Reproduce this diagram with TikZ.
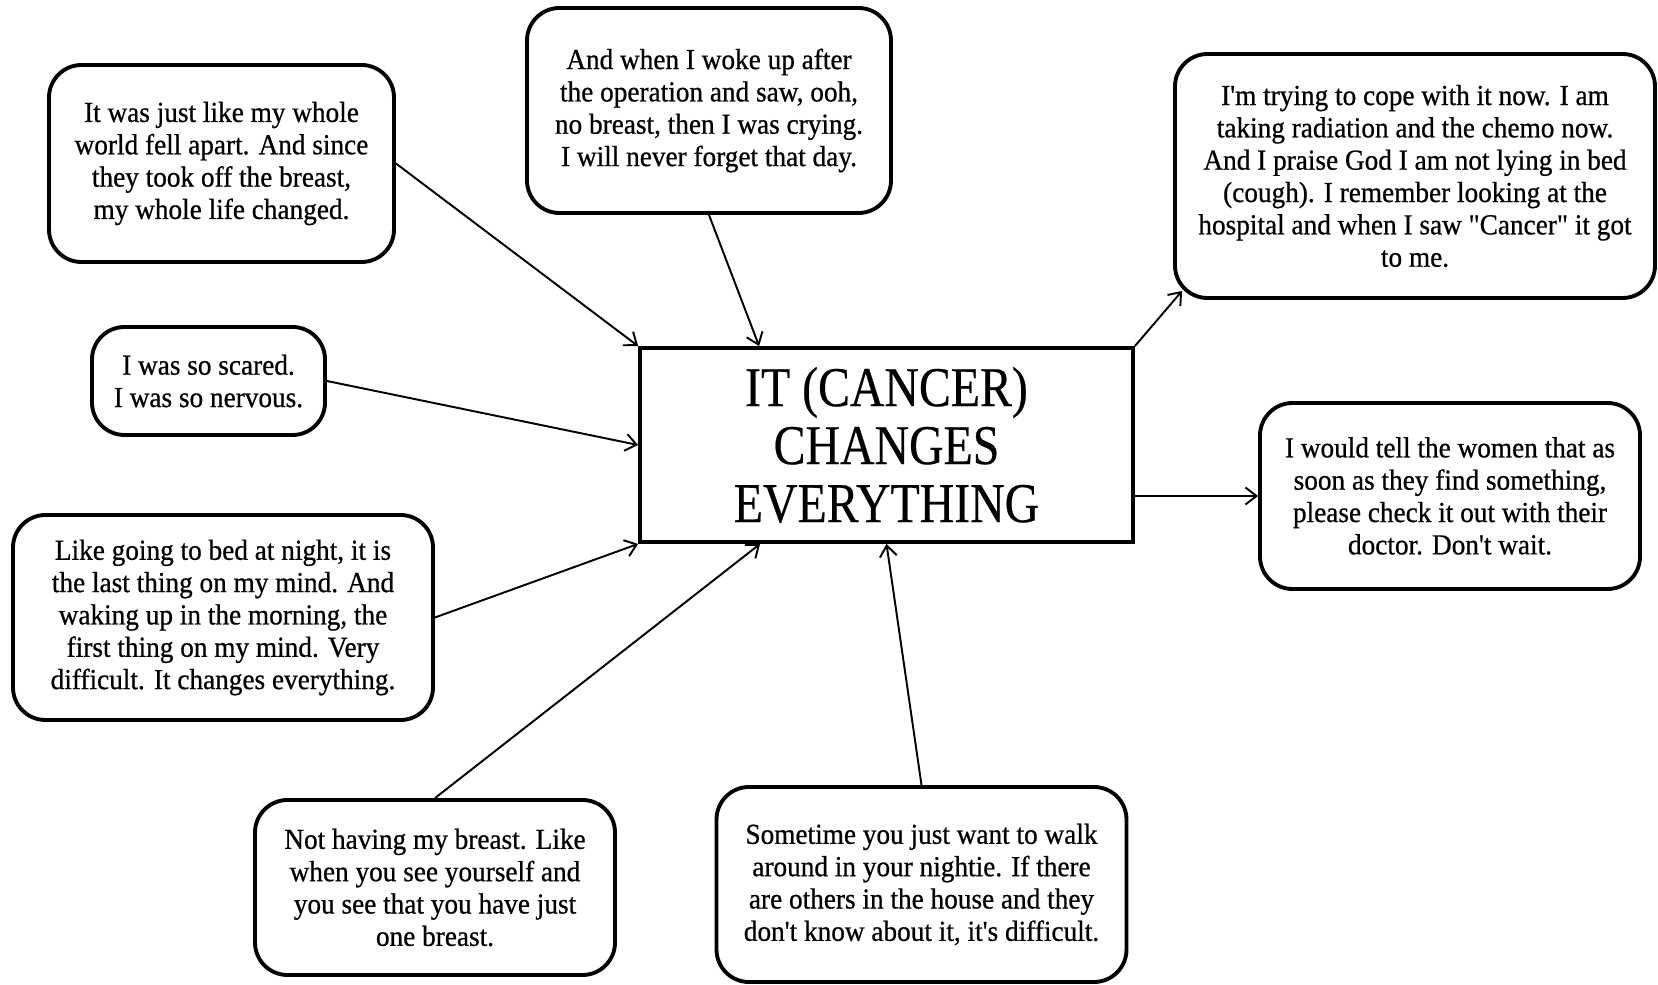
\documentclass[tikz,border=0pt]{standalone}
\usepackage{fontspec}
\setmainfont{Liberation Serif}
\newfontfamily\bannerfont[FakeStretch=0.85,FakeBold=0.4]{Liberation Serif}
\newfontfamily\sayingfont[Ligatures=TeXOff,FakeStretch=0.94,FakeBold=0.7]{Liberation Serif}
\usetikzlibrary{arrows.meta,calc}
\tikzset{
  saying/.style={
    draw,
    line width=2.2pt,
    rounded corners=6.5mm,
    align=center,
    font=\sayingfont\fontsize{16.5}{18.4}\selectfont
  },
  theme/.style={
    draw,
    line width=2.2pt,
    align=center,
    minimum width=98.6mm,
    minimum height=38.8mm,
    font=\bannerfont\fontsize{32}{33}\selectfont
  },
  flow/.style={-{Straight Barb[length=2.2mm,width=3.4mm]}, line width=1.1pt}
}
\begin{document}
\begin{tikzpicture}[x=0.2mm,y=0.2mm]
  \useasboundingbox (0,0) rectangle (1658,984);
  \node[theme] (core) at (886.5,539) {IT (CANCER)\\CHANGES\\EVERYTHING};
  \node[saying, minimum width=69mm, minimum height=39.4mm] (apart) at (221.5,820.5)
    {It was just like my whole\\world fell apart.  And since\\they took off the breast,\\my whole life changed.};
  \node[saying, minimum width=72.8mm, minimum height=41mm] (wokeup) at (709,873.5)
    {And when I woke up after\\the operation and saw, ooh,\\no breast, then I was crying.\\I will never forget that day.};
  \node[saying, minimum width=96mm, minimum height=48.8mm] (cope) at (1415,808)
    {I'm trying to cope with it now.  I am\\taking radiation and the chemo now.\\And I praise God I am not lying in bed\\(cough).  I remember looking at the\\hospital and when I saw "Cancer" it got\\to me.};
  \node[saying, minimum width=46.6mm, minimum height=21.6mm] (scared) at (208.5,603)
    {I was so scared.\\I was so nervous.};
  \node[saying, minimum width=76mm, minimum height=37.2mm] (advice) at (1450,488)
    {I would tell the women that as\\soon as they find something,\\please check it out with their\\doctor.  Don't wait.};
  \node[saying, minimum width=84mm, minimum height=41mm] (night) at (223,366.5)
    {Like going to bed at night, it is\\the last thing on my mind.  And\\waking up in the morning, the\\first thing on my mind.  Very\\difficult.  It changes everything.};
  \node[saying, minimum width=72mm, minimum height=35mm] (mirror) at (435,96.5)
    {Not having my breast.  Like\\when you see yourself and\\you see that you have just\\one breast.};
  \node[saying, minimum width=82mm, minimum height=39mm] (nightie) at (921.5,99.5)
    {Sometime you just want to walk\\around in your nightie.  If there\\are others in the house and they\\don't know about it, it's difficult.};

  \draw[flow] (apart.east) -- (core.north west);
  \draw[flow] (wokeup.south) -- ($(core.north west)+(121,0)$);
  \draw[flow] (core.north east) -- ($(cope.south west)+(9,9)$);
  \draw[flow] (scared.east) -- (core.west);
  \draw[flow] (core.east |- advice.west) -- (advice.west);
  \draw[flow] (night.east) -- (core.south west);
  \draw[flow] (mirror.north) -- ($(core.south west)+(122,0)$);
  \draw[flow] (nightie.north) -- (core.south);
\end{tikzpicture}
\end{document}
